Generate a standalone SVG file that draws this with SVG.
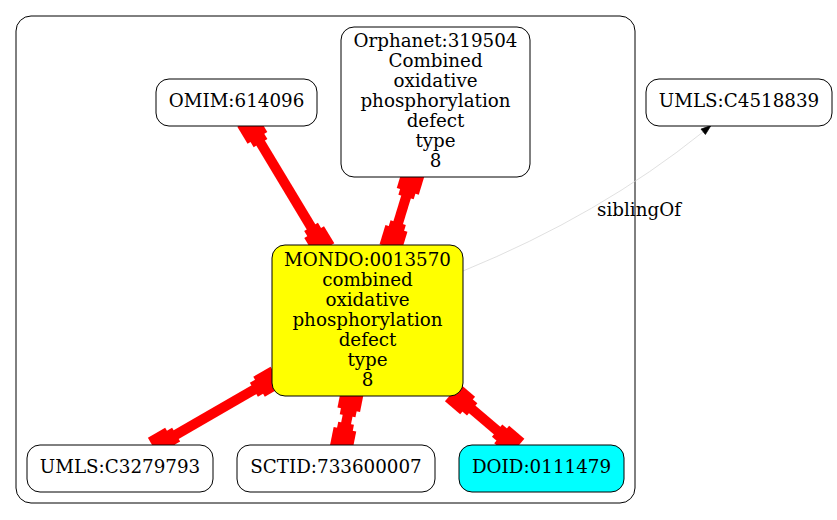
<svg xmlns="http://www.w3.org/2000/svg" xmlns:xlink="http://www.w3.org/1999/xlink" width="837" height="520" viewBox="0 0 837 520">
<style>
  .n { stroke: #000; stroke-width: 1; fill: #fff; }
  .t { font-family: "DejaVu Serif", "Liberation Serif", serif; font-size: 18.3px; fill: #000; text-anchor: middle; }
  .edge { stroke: #ff0000; stroke-width: 10; fill: none; }
  .sib { stroke: #d3d3d3; stroke-width: 0.7; fill: none; }
</style>
<defs>
  <g id="bx" fill="#ff0000">
    <rect x="-10" y="-11.5" width="20" height="23"/>
    <rect x="9" y="-8" width="7" height="16"/>
  </g>
</defs>
<rect x="16" y="16" width="619" height="487" rx="15" ry="15" fill="none" stroke="#000" stroke-width="1"/>

<g id="connectors">
  <line class="edge" x1="319.3" y1="240.7" x2="252.3" y2="129.3"/>
  <use xlink:href="#bx" transform="translate(319.3,240.7) rotate(-121)"/>
  <use xlink:href="#bx" transform="translate(252.3,129.3) rotate(59)"/>

  <line class="edge" x1="393.5" y1="238" x2="410.7" y2="181.7"/>
  <use xlink:href="#bx" transform="translate(393.5,238) rotate(-73)"/>
  <use xlink:href="#bx" transform="translate(410.7,181.7) rotate(107)"/>

  <line class="edge" x1="267.7" y1="381.7" x2="162.3" y2="442.7"/>
  <use xlink:href="#bx" transform="translate(267.7,381.7) rotate(149.9)"/>
  <use xlink:href="#bx" transform="translate(162.3,442.7) rotate(-30.1)"/>

  <line class="edge" x1="350.7" y1="400" x2="343" y2="439"/>
  <use xlink:href="#bx" transform="translate(350.7,400) rotate(101.2)"/>
  <use xlink:href="#bx" transform="translate(343,439) rotate(-78.8)"/>

  <line class="edge" x1="460" y1="399" x2="509.3" y2="441"/>
  <use xlink:href="#bx" transform="translate(460,399) rotate(40.4)"/>
  <use xlink:href="#bx" transform="translate(509.3,441) rotate(-139.6)"/>

  <path class="sib" d="M463,271 Q600,215 703.2,131.8"/>
  <polygon points="711,125.5 705.4,134.5 701,129.1" fill="#000" stroke="#000" stroke-width="0.7"/>
  <text class="t" x="639" y="216">siblingOf</text>
</g>

<g id="omim">
  <rect class="n" x="156" y="79" width="161" height="47" rx="13" ry="13"/>
  <text class="t" x="236.5" y="107">OMIM:614096</text>
</g>
<g id="orphanet">
  <rect class="n" x="341" y="27" width="189" height="150" rx="13" ry="13"/>
  <text class="t" x="435.5" y="46.5">Orphanet:319504</text>
  <text class="t" x="435.5" y="66.5">Combined</text>
  <text class="t" x="435.5" y="86.5">oxidative</text>
  <text class="t" x="435.5" y="106.5">phosphorylation</text>
  <text class="t" x="435.5" y="126.5">defect</text>
  <text class="t" x="435.5" y="146.5">type</text>
  <text class="t" x="435.5" y="166.5">8</text>
</g>
<g id="umls4518839">
  <rect class="n" x="646" y="79" width="186" height="47" rx="13" ry="13"/>
  <text class="t" x="739" y="107">UMLS:C4518839</text>
</g>
<g id="mondo">
  <rect class="n" x="272" y="245" width="191" height="151" rx="13" ry="13" style="fill:#ffff00"/>
  <text class="t" x="367.5" y="266">MONDO:0013570</text>
  <text class="t" x="367.5" y="286">combined</text>
  <text class="t" x="367.5" y="306">oxidative</text>
  <text class="t" x="367.5" y="326">phosphorylation</text>
  <text class="t" x="367.5" y="346">defect</text>
  <text class="t" x="367.5" y="366">type</text>
  <text class="t" x="367.5" y="386">8</text>
</g>
<g id="umls3279793">
  <rect class="n" x="27" y="445" width="186" height="47" rx="13" ry="13"/>
  <text class="t" x="120" y="473">UMLS:C3279793</text>
</g>
<g id="sctid">
  <rect class="n" x="237" y="445" width="198" height="47" rx="13" ry="13"/>
  <text class="t" x="336" y="473">SCTID:733600007</text>
</g>
<g id="doid">
  <rect class="n" x="459" y="445" width="165" height="47" rx="13" ry="13" style="fill:#00ffff"/>
  <text class="t" x="541.5" y="473">DOID:0111479</text>
</g>
</svg>
